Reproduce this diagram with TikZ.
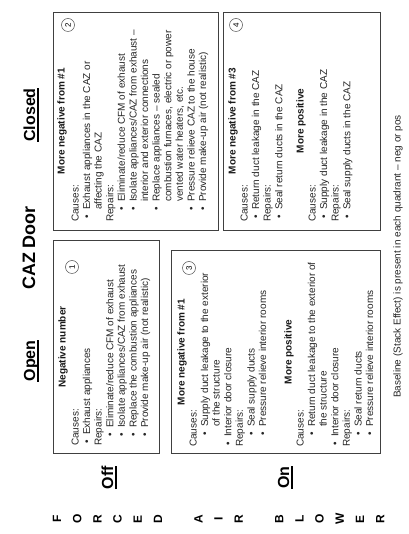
\documentclass[tikz,border=0pt]{standalone}
\usepackage{fontspec}
\setmainfont{Liberation Sans}
\usetikzlibrary{calc}
\newcommand\bu{\makebox[9pt][l]{\textbullet}}
\newcommand\bodylines[4]{\foreach \xx/\tx [count=\i from 0] in {#4}{\node[txt] (#1-\i) at ({\xx},{#2+#3*\i}) {\tx};}}
\begin{document}
\begin{tikzpicture}[x=1pt,y=1pt,
 box/.style={draw=black!75,line width=0.8pt},
 txt/.style={font=\fontsize{10}{12}\selectfont,text=black!85,inner sep=0pt,anchor=base west},
 hd/.style={font=\bfseries\fontsize{10}{12}\selectfont,text=black!90,inner sep=0pt,anchor=base},
 num/.style={circle,draw=black!70,line width=0.5pt,inner sep=0pt,minimum size=13pt,font=\fontsize{8}{8}\selectfont},
 lbl/.style={font=\bfseries\fontsize{16}{16}\selectfont,inner sep=0pt,anchor=base},
 ttl/.style={font=\bfseries\fontsize{18}{18}\selectfont,inner sep=0pt,anchor=base},
 letter/.style={font=\bfseries\fontsize{12}{12}\selectfont,inner sep=0pt},
 ul/.style={line width=1.4pt}]
\useasboundingbox (0,0) rectangle (408,534);
\fill[white] (0,0) rectangle (408,534);
\begin{scope}[shift={(408,0)},rotate=90,yshift=408pt,y=-1pt,transform shape]
 % titles
 \node[ttl] (caz) at (286,35) {CAZ Door};
 \node[lbl] (open) at (173,35) {Open};
 \node[lbl] (closed) at (419,35) {Closed};
 \node[lbl] (off) at (56.5,113) {Off};
 \node[lbl] (on) at (56.5,289) {On};
 \foreach \nm in {open,closed,off,on}
   \draw[ul] ($(\nm.base west)+(0,2.8)$) -- ($(\nm.base east)+(0,2.8)$);
 % side letters
 \foreach \l/\yy [count=\k] in {F/57,O/77.2,R/97.4,C/117.6,E/137.8,D/158,A/198.4,I/218.6,R/238.8,B/279.2,L/299.4,O/319.6,W/339.8,E/360,R/380.2}
   \node[letter] (let\k) at (15,\yy) {\l};
 % boxes
 \draw[box] (81,53) rectangle (294,159);
 \draw[box] (81,171) rectangle (284,380);
 \draw[box] (304,53) rectangle (522,218);
 \draw[box] (304,223) rectangle (522,380);
 % numbers
 \node[num] (n1) at (267,72) {1};
 \node[num] (n3) at (266,189) {3};
 \node[num] (n2) at (509,68) {2};
 \node[num] (n4) at (509,236) {4};
 % headings
 \node[hd] (h1) at (187,65.5) {Negative number};
 \node[hd] (h3a) at (182,184.5) {More negative from \#1};
 \node[hd] (h3b) at (182,291.5) {More positive};
 \node[hd] (h2) at (413,64.5) {More negative from \#1};
 \node[hd] (h4a) at (413,235.5) {More negative from \#3};
 \node[hd] (h4b) at (413,303.5) {More positive};
 % bodies
 \bodylines{b1}{78.5}{11.6}{88/{Causes:}, 90/{\bu Exhaust appliances}, 88/{Repairs:}, 97/{\bu Eliminate/reduce CFM of exhaust}, 97/{\bu Isolate appliances/CAZ from exhaust}, 97/{\bu Replace the combustion appliances}, 97/{\bu Provide make-up air (not realistic)}}
 \bodylines{b3a}{196.5}{11.6}{87/{Causes:}, 98/{\bu Supply duct leakage to the exterior}, 107/{of the structure}, 88/{\bu Interior door closure}, 87/{Repairs:}, 98/{\bu Seal supply ducts}, 98/{\bu Pressure relieve interior rooms}}
 \bodylines{b3b}{303.5}{11.6}{87/{Causes:}, 98/{\bu Return duct leakage to the exterior of}, 107/{the structure}, 88/{\bu Interior door closure}, 87/{Repairs:}, 98/{\bu Seal return ducts}, 98/{\bu Pressure relieve interior rooms}}
 \bodylines{b2}{78.5}{11.6}{312/{Causes:}, 315/{\bu Exhaust appliances in the CAZ or}, 324/{affecting the CAZ}, 312/{Repairs:}, 323/{\bu Eliminate/reduce CFM of exhaust}, 323/{\bu Isolate appliances/CAZ from exhaust --}, 332/{interior and exterior connections}, 323/{\bu Replace appliances -- sealed}, 332/{combustion furnaces, electric or power}, 332/{vented water heaters, etc.}, 323/{\bu Pressure relieve CAZ to the house}, 323/{\bu Provide make-up air (not realistic)}}
 \bodylines{b4a}{247.5}{11.6}{312/{Causes:}, 315/{\bu Return duct leakage in the CAZ}, 312/{Repairs:}, 315/{\bu Seal return ducts in the CAZ}}
 \bodylines{b4b}{315.5}{11.6}{312/{Causes:}, 315/{\bu Supply duct leakage in the CAZ}, 312/{Repairs:}, 315/{\bu Seal supply ducts in the CAZ}}
 % footer
 \node[txt,anchor=base] (foot) at (277.5,400.5) {Baseline (Stack Effect) is present in each quadrant -- neg or pos};
\end{scope}
\end{tikzpicture}
\end{document}
